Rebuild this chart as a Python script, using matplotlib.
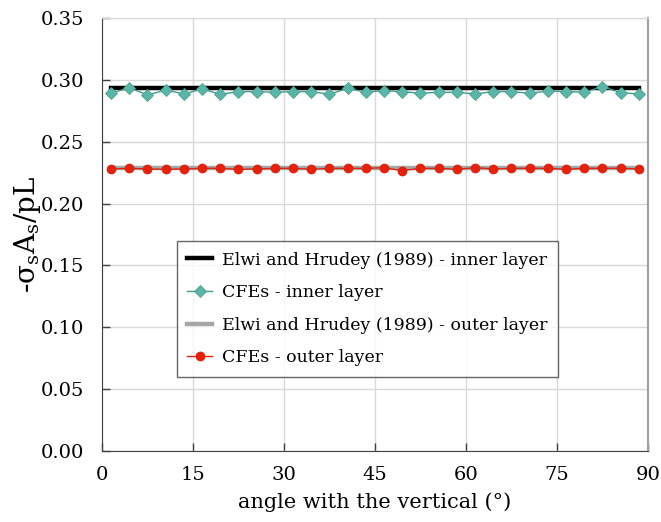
import numpy as np
import matplotlib
matplotlib.use("Agg")
import matplotlib.pyplot as plt

plt.rcParams['font.family'] = ['DejaVu Serif']
plt.rcParams['mathtext.fontset'] = 'custom'
plt.rcParams['mathtext.rm'] = 'DejaVu Serif'

# angle with the vertical (deg)
angle = [1.5, 4.5, 7.5, 10.5, 13.5, 16.5, 19.5, 22.5, 25.5, 28.5,
         31.5, 34.5, 37.5, 40.5, 43.5, 46.5, 49.5, 52.5, 55.5, 58.5,
         61.5, 64.5, 67.5, 70.5, 73.5, 76.5, 79.5, 82.5, 85.5, 88.5]

cfe_inner = [0.2892, 0.2937, 0.2878, 0.2918, 0.2886, 0.2926, 0.2884, 0.2905, 0.2905, 0.2900,
             0.2905, 0.2905, 0.2884, 0.2932, 0.2900, 0.2913, 0.2905, 0.2892, 0.2900, 0.2900,
             0.2886, 0.2905, 0.2905, 0.2892, 0.2910, 0.2905, 0.2900, 0.2945, 0.2897, 0.2886]

cfe_outer = [0.2280, 0.2285, 0.2280, 0.2277, 0.2280, 0.2285, 0.2285, 0.2277, 0.2280, 0.2285,
             0.2285, 0.2277, 0.2285, 0.2285, 0.2285, 0.2290, 0.2266, 0.2285, 0.2285, 0.2277,
             0.2290, 0.2280, 0.2285, 0.2285, 0.2285, 0.2277, 0.2285, 0.2285, 0.2285, 0.2280]

elwi_inner = 0.2935
elwi_outer = 0.2288

fig = plt.figure(figsize=(6.61, 5.22), dpi=100)
ax = fig.add_axes([0.1543, 0.136, 0.826, 0.8295])

ax.plot(angle, [elwi_inner] * len(angle), color='black', lw=3.2,
        solid_capstyle='projecting', label='Elwi and Hrudey (1989) - inner layer', zorder=3)
ax.plot(angle, cfe_inner, color='#3f9c8c', lw=1, marker='D', markersize=6.5,
        markerfacecolor='#5cb5a7', markeredgecolor='#4aa293', markeredgewidth=0.6,
        label='CFEs - inner layer', zorder=4)
ax.plot(angle, [elwi_outer] * len(angle), color='#a6a6a6', lw=3.2,
        solid_capstyle='projecting', label='Elwi and Hrudey (1989) - outer layer', zorder=3)
ax.plot(angle, cfe_outer, color='#e3230e', lw=1, marker='o', markersize=6.5,
        markerfacecolor='#e3230e', markeredgecolor='#d01e0c', markeredgewidth=0.5,
        label='CFEs - outer layer', zorder=4)

ax.set_xlim(0, 90)
ax.set_ylim(0, 0.35)
ax.set_xticks(np.arange(0, 91, 15))
ax.set_yticks(np.arange(0, 0.351, 0.05))
ax.set_yticklabels(['%.2f' % v for v in np.arange(0, 0.351, 0.05)])
ax.grid(True, color='#d9d9d9', lw=1)
ax.set_axisbelow(True)
ax.tick_params(direction='in', length=6, width=1, color='#404040', labelsize=14)
ax.tick_params(axis='x', pad=11)
ax.tick_params(axis='y', pad=13)

ax.spines['left'].set_color('#404040')
ax.spines['bottom'].set_color('#404040')
ax.spines['right'].set_color('#a0a0a0')
ax.spines['right'].set_linewidth(1.5)
ax.spines['top'].set_color('#d9d9d9')

ax.set_xlabel('angle with the vertical (°)', fontsize=15, labelpad=6)
ax.set_ylabel(r'-σ$_\mathregular{s}$A$_\mathregular{s}$/pL', fontsize=20, labelpad=-2)

leg = ax.legend(loc='center', bbox_to_anchor=(0.486, 0.328), fontsize=12.5, frameon=True,
                fancybox=False, edgecolor='#404040', handlelength=1.45, handletextpad=0.55,
                borderpad=0.6, labelspacing=0.9)
leg.get_frame().set_linewidth(1)

fig.savefig('out.png', dpi=100)
